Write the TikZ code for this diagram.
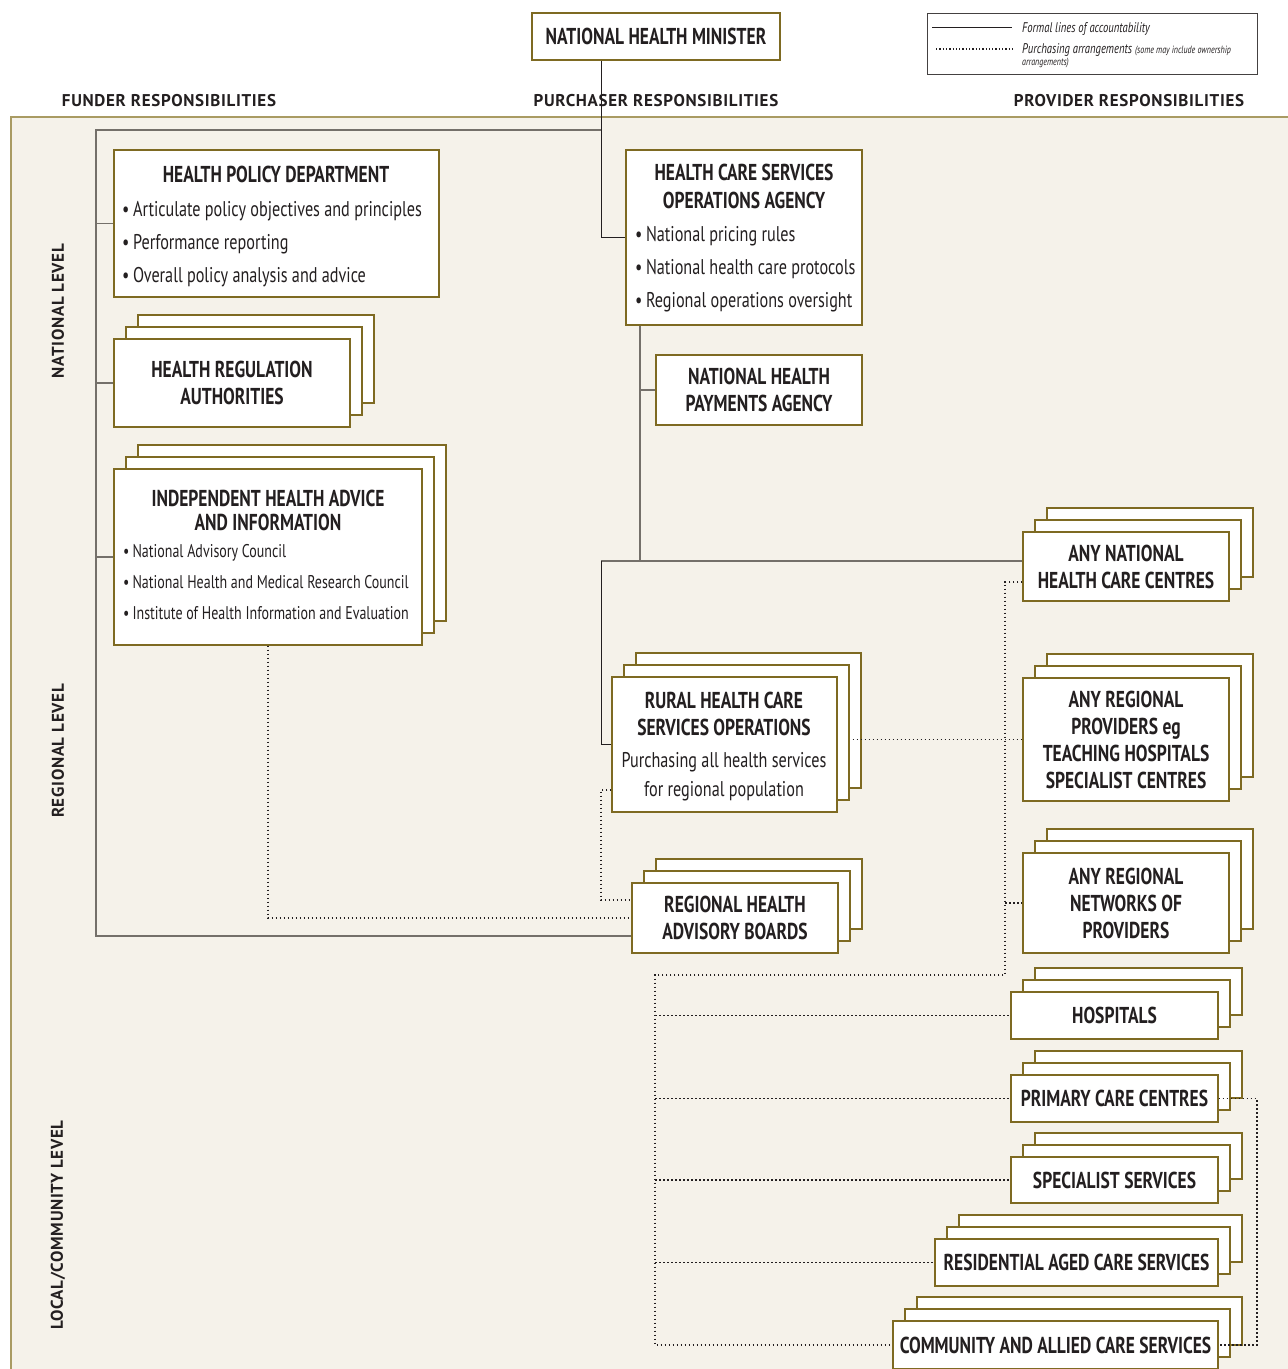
\documentclass[tikz,border=0pt]{standalone}
\usepackage{fontspec}
\setmainfont{PT Sans}
\newfontfamily\cnd{PT Sans}[FakeStretch=0.76]
\newfontfamily\hdf{PT Sans}[LetterSpace=4.0]
\usetikzlibrary{calc}
\definecolor{ink}{HTML}{231F20}
\definecolor{olive}{HTML}{7E6A22}
\definecolor{panel}{HTML}{F5F2EA}
\definecolor{paneledge}{HTML}{A99B63}
\definecolor{accgray}{HTML}{74706A}
\newcommand\ttlf{\cnd\bfseries\fontsize{23}{27}\selectfont}
\newcommand\bulf{\cnd\fontsize{21.3}{24}\selectfont}
\newcommand\smbulf{\cnd\fontsize{18.4}{20}\selectfont}
\newcommand\hdrf{\hdf\bfseries\fontsize{17}{19}\selectfont}
\newcommand\legf{\cnd\itshape\fontsize{14}{15}\selectfont}
\newcommand\legsf{\cnd\itshape\fontsize{10.5}{11}\selectfont}
\tikzset{
 box/.style={draw=olive, line width=1.2pt, fill=white, text=ink, align=center, inner sep=2pt, font=\ttlf},
 backbox/.style={draw=olive, line width=1.2pt, fill=white},
 ttl/.style={text=ink, font=\ttlf, inner sep=0pt, anchor=base},
 bul/.style={text=ink, font=\bulf, inner sep=0pt, anchor=base west},
 sbul/.style={text=ink, font=\smbulf, inner sep=0pt, anchor=base west},
 body/.style={text=ink, font=\bulf, inner sep=0pt, anchor=base},
 accg/.style={draw=accgray, line width=1.8pt},
 accb/.style={draw=ink, line width=1pt},
 pur/.style={draw=ink, line width=1.8pt, dash pattern=on 1.8pt off 2.2pt},
 hdr/.style={text=ink, font=\hdrf, inner sep=0pt, anchor=base},
 lvl/.style={text=ink, font=\hdrf, inner sep=0pt, rotate=90},
 legtxt/.style={text=ink, font=\legf, inner sep=0pt, anchor=base west},
}
% back boxes of a stack: x1 y1 x2 y2 offset
\newcommand\backstack[5]{%
  \draw[backbox] ({#1+2*#5},{#2-2*#5}) rectangle ({#3+2*#5},{#4-2*#5});
  \draw[backbox] ({#1+#5},{#2-#5}) rectangle ({#3+#5},{#4-#5});}
% front box: name x1 y1 x2 y2 text
\newcommand\frontbox[6]{%
  \node[box, minimum width={#4-#2}, minimum height={#5-#3}] (#1) at ({(#2+#4)/2},{(#3+#5)/2}) {#6};}
\begin{document}
\begin{tikzpicture}[x=1pt,y=-1pt]
\useasboundingbox (0,0) rectangle (1288,1369);
\fill[white] (0,0) rectangle (1288,1369);
\fill[panel] (11,117) rectangle (1290,1372);
\draw[paneledge, line width=1.2pt] (11,1372) -- (11,117) -- (1290,117);

% headers
\node[hdr] (hf) at (169,106) {FUNDER RESPONSIBILITIES};
\node[hdr] (hp) at (656,106) {PURCHASER RESPONSIBILITIES};
\node[hdr] (hv) at (1129,106) {PROVIDER RESPONSIBILITIES};

% levels
\node[lvl] (ln) at (58,311) {NATIONAL LEVEL};
\node[lvl] (lr) at (58,751) {REGIONAL LEVEL};
\node[lvl] (ll) at (58,1225) {LOCAL/COMMUNITY LEVEL};

% legend
\node[draw=ink!85, line width=0.8pt, fill=white, minimum width=330, minimum height=61, inner sep=0pt] (leg) at (1092,43.5) {};
\coordinate (la1) at (932,27);
\coordinate (la2) at (1012,27);
\coordinate (lb1) at (936,49);
\coordinate (lb2) at (1013,49);
\draw[accb, line width=0.8pt] (la1) -- (la2);
\draw[pur, line width=1.3pt, dash pattern=on 1.3pt off 2pt] (lb1) -- (lb2);
\node[legtxt] (lt1) at (1022,32) {Formal lines of accountability};
\node[legtxt] (lt2) at (1022,53) {Purchasing arrangements {\legsf (some may include ownership}};
\node[legtxt, font=\legsf] (lt3) at (1022,65.5) {arrangements)};

% minister
\frontbox{min}{532}{13}{780}{60}{NATIONAL HEALTH MINISTER}

% health policy department
\frontbox{hpd}{114}{150}{439}{297}{}
\node[ttl] (hpdt) at (276,182) {HEALTH POLICY DEPARTMENT};
\node[bul] (hpd1) at (122,216) {\textbullet\,Articulate policy objectives and principles};
\node[bul] (hpd2) at (122,249) {\textbullet\,Performance reporting};
\node[bul] (hpd3) at (122,282) {\textbullet\,Overall policy analysis and advice};

% health care services operations agency
\frontbox{hcs}{626}{150}{862}{325}{}
\node[ttl] (hcst1) at (744,180) {HEALTH CARE SERVICES};
\node[ttl] (hcst2) at (744,208) {OPERATIONS AGENCY};
\node[bul] (hcs1) at (635,241) {\textbullet\,National pricing rules};
\node[bul] (hcs2) at (635,274) {\textbullet\,National health care protocols};
\node[bul] (hcs3) at (635,307) {\textbullet\,Regional operations oversight};

% national health payments agency
\frontbox{nhpa}{656}{355}{862}{425}{NATIONAL HEALTH\\PAYMENTS AGENCY}

% health regulation authorities
\backstack{114}{339}{350}{427}{12}
\frontbox{hra}{114}{339}{350}{427}{HEALTH REGULATION\\AUTHORITIES}

% independent health advice
\backstack{114}{469}{422}{645}{12}
\frontbox{ihai}{114}{469}{422}{645}{}
\node[ttl] (ihait1) at (268,506) {INDEPENDENT HEALTH ADVICE};
\node[ttl] (ihait2) at (268,530) {AND INFORMATION};
\node[sbul] (ihai1) at (123,557) {\textbullet\,National Advisory Council};
\node[sbul] (ihai2) at (123,588) {\textbullet\,National Health and Medical Research Council};
\node[sbul] (ihai3) at (123,619) {\textbullet\,Institute of Health Information and Evaluation};

% rural health care services operations
\backstack{612}{677}{837}{812}{12}
\frontbox{rur}{612}{677}{837}{812}{}
\node[ttl] (rurt1) at (724,708) {RURAL HEALTH CARE};
\node[ttl] (rurt2) at (724,735) {SERVICES OPERATIONS};
\node[body] (rurb1) at (724,767) {Purchasing all health services};
\node[body] (rurb2) at (724,796) {for regional population};

% regional health advisory boards
\backstack{632}{883}{838}{953}{12}
\frontbox{rhab}{632}{883}{838}{953}{REGIONAL HEALTH\\ADVISORY BOARDS}

% providers
\backstack{1023}{532}{1229}{601}{12}
\frontbox{anh}{1023}{532}{1229}{601}{ANY NATIONAL\\HEALTH CARE CENTRES}
\backstack{1023}{678}{1229}{801}{12}
\frontbox{arp}{1023}{678}{1229}{801}{ANY REGIONAL\\PROVIDERS eg\\TEACHING HOSPITALS\\SPECIALIST CENTRES}
\backstack{1023}{853}{1229}{953}{12}
\frontbox{arn}{1023}{853}{1229}{953}{ANY REGIONAL\\NETWORKS OF\\PROVIDERS}
\backstack{1011}{992}{1218}{1039}{12}
\frontbox{hosp}{1011}{992}{1218}{1039}{HOSPITALS}
\backstack{1011}{1075}{1218}{1122}{12}
\frontbox{prim}{1011}{1075}{1218}{1122}{PRIMARY CARE CENTRES}
\backstack{1011}{1157}{1218}{1203}{12}
\frontbox{spec}{1011}{1157}{1218}{1203}{SPECIALIST SERVICES}
\backstack{935}{1239}{1218}{1286}{12}
\frontbox{res}{935}{1239}{1218}{1286}{RESIDENTIAL AGED CARE SERVICES}
\backstack{893}{1321}{1218}{1369}{12}
\frontbox{comm}{893}{1321}{1218}{1369}{COMMUNITY AND ALLIED CARE SERVICES}

% ---------- connectors: formal accountability ----------
\coordinate (j1) at (601,237);
\draw[accb] (min.south -| j1) |- (hcs.west);
\coordinate (f0) at (601,130);
\coordinate (f1) at (96,130);
\coordinate (f2) at (96,936);
\draw[accg] (f0) -- (f1) -- (f2) -- (rhab.west |- f2);
\draw[accg] (f1 |- hpd.west) -- (hpd.west);
\draw[accg] (f1 |- hra.west) -- (hra.west);
\draw[accg] (f1 |- ihai.west) -- (ihai.west);
\coordinate (p1) at (640,561);
\coordinate (p2) at (601,561);
\draw[accg] (hcs.south -| p1) -- (p1);
\draw[accg] (p1 |- nhpa.west) -- (nhpa.west);
\draw[accg] (anh.west |- p2) -- (p2);
\draw[accb] (p2) |- (rur.west);

% ---------- connectors: purchasing arrangements ----------
\draw[pur] (ihai.south) |- (rhab.west);
\coordinate (d2) at (601,790);
\coordinate (d3) at (601,900);
\draw[pur] (rur.west |- d2) -- (d2) -- (d3) -- (rhab.west |- d3);
\draw[pur] ([xshift=15pt]rur.east |- arp.west) -- (arp.west);
\coordinate (v0) at (1005,582);
\coordinate (v1) at (1005,975);
\coordinate (v2) at (655,975);
\coordinate (v3) at (655,1345);
\draw[pur] (anh.west |- v0) -- (v0) -- (v1) -- (v2) -- (v3) -- (comm.west);
\draw[pur] (v0 |- arn.west) -- (arn.west);
\draw[pur] (v2 |- hosp.west) -- (hosp.west);
\draw[pur] (v2 |- prim.west) -- (prim.west);
\draw[pur] (v2 |- spec.west) -- (spec.west);
\draw[pur] (v2 |- res.west) -- (res.west);
\coordinate (r1) at (1257,1098);
\draw[pur] (prim.east) -- (prim.east -| r1) |- (comm.east);
\end{tikzpicture}
\end{document}
